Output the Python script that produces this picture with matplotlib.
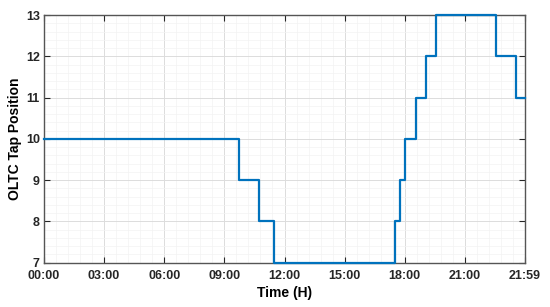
import matplotlib
matplotlib.use('Agg')
import matplotlib.pyplot as plt
from matplotlib.ticker import MultipleLocator

# Tap change instants (hours) and tap position held after each instant
change_hours = [0.0, 9.75, 10.74, 11.5, 17.53, 17.78, 18.03, 18.55, 19.05, 19.55, 22.55, 23.55, 24.0]
tap_position = [10, 9, 8, 7, 8, 9, 10, 11, 12, 13, 12, 11, 11]

xtick_hours = [0, 3, 6, 9, 12, 15, 18, 21, 24]
xtick_labels = ['00:00', '03:00', '06:00', '09:00', '12:00', '15:00', '18:00', '21:00', '21:59']
ytick_values = [7, 8, 9, 10, 11, 12, 13]

plt.rcParams['font.family'] = ['Liberation Sans', 'DejaVu Sans']
plt.rcParams['font.weight'] = 'bold'

fig = plt.figure(figsize=(5.5, 3.07), dpi=100)
ax = fig.add_axes([44 / 550, 1 - 262.7 / 307, (525 - 44) / 550, (262.7 - 15) / 307])

ax.step(change_hours, tap_position, where='post', color='#0072BD', lw=1.6,
        zorder=5, clip_on=False)

ax.set_xlim(0, 24)
ax.set_ylim(7, 13)
ax.set_xticks(xtick_hours)
ax.set_xticklabels(xtick_labels)
ax.set_yticks(ytick_values)
ax.xaxis.set_minor_locator(MultipleLocator(0.6))
ax.yaxis.set_minor_locator(MultipleLocator(0.2))

ax.grid(which='major', color='#dcdcdc', lw=0.7)
ax.grid(which='minor', color='#f3f3f3', lw=0.5)
ax.set_axisbelow(True)

ax.tick_params(which='major', direction='in', length=4, width=0.8, colors='#262626',
               labelsize=9, top=True, right=True)
ax.tick_params(axis='x', pad=5)
ax.tick_params(axis='y', pad=3)
ax.tick_params(which='minor', length=0)
for lab in ax.get_xticklabels() + ax.get_yticklabels():
    lab.set_fontweight('bold')
for s in ax.spines.values():
    s.set_color('#555555')
    s.set_linewidth(1.0)

ax.set_xlabel('Time (H)', fontsize=10, fontweight='bold', labelpad=3)
ax.set_ylabel('OLTC Tap Position', fontsize=10, fontweight='bold', labelpad=3)

fig.savefig('out.png', dpi=100)
